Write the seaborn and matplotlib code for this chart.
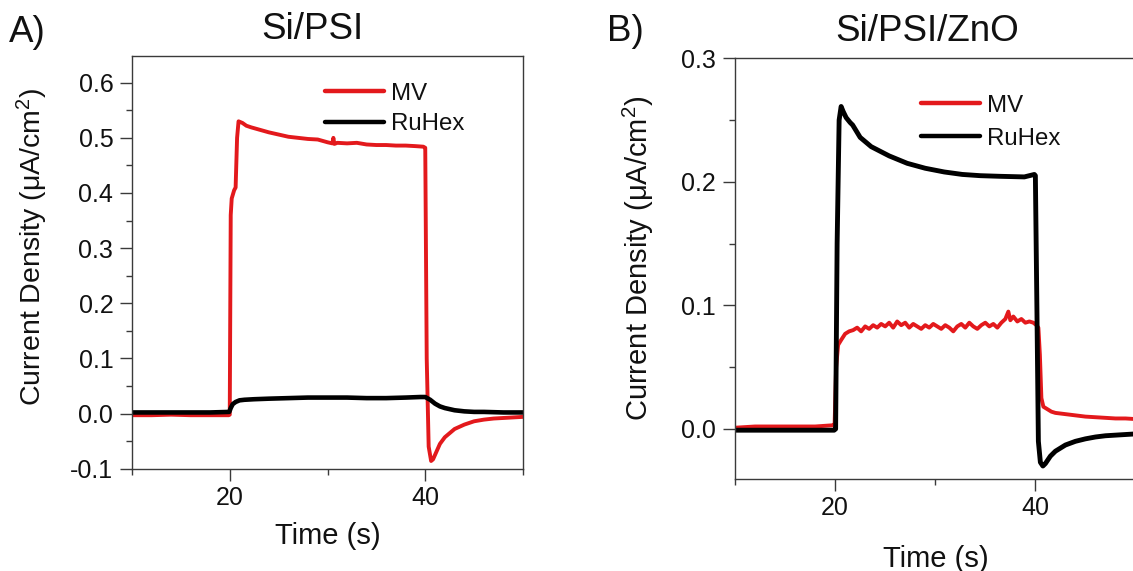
import numpy as np
import pandas as pd
import matplotlib
matplotlib.use("Agg")
import matplotlib.pyplot as plt
from matplotlib.ticker import MultipleLocator, FormatStrFormatter
import seaborn as sns

# ---------------- data ----------------
# Panel A: Si/PSI
a_mv_t = [10, 12, 14, 16, 18, 19.9, 20.0, 20.1, 20.2, 20.45, 20.6, 20.75, 20.9, 21.3, 21.7,
          22.2, 23.0, 24.0, 25.0, 26.0, 27.0, 28.0, 29.0, 30.0, 30.5, 30.6, 30.7, 31.0, 32.0,
          33.0, 34.0, 35.0, 36.0, 37.0, 38.0, 39.0, 39.8, 40.0, 40.15, 40.35, 40.6, 40.8,
          41.0, 41.5, 42.0, 43.0, 44.0, 45.0, 46.0, 47.0, 48.0, 49.0, 50.0]
a_mv_y = [-0.003, -0.003, -0.002, -0.003, -0.003, -0.003, -0.002, 0.36, 0.39, 0.405, 0.41, 0.50,
          0.53, 0.527, 0.522, 0.519, 0.515, 0.510, 0.506, 0.502, 0.500, 0.498, 0.497, 0.492,
          0.490, 0.500, 0.489, 0.491, 0.490, 0.491, 0.488, 0.487, 0.487, 0.486, 0.486, 0.485,
          0.484, 0.482, 0.10, -0.06, -0.086, -0.083, -0.075, -0.055, -0.043, -0.028, -0.020,
          -0.014, -0.011, -0.009, -0.008, -0.007, -0.006]
a_ru_t = [10, 12, 14, 16, 18, 19.95, 20.1, 20.3, 20.6, 21.0, 21.5, 22.5, 24, 26, 28, 30, 32,
          34, 36, 38, 39.5, 40.0, 40.5, 41.0, 41.5, 42, 43, 44, 45, 46, 48, 50]
a_ru_y = [0.002, 0.002, 0.002, 0.002, 0.002, 0.003, 0.010, 0.017, 0.021, 0.024, 0.025, 0.026,
          0.027, 0.028, 0.029, 0.029, 0.029, 0.028, 0.028, 0.029, 0.030, 0.030, 0.025, 0.018,
          0.013, 0.010, 0.006, 0.004, 0.003, 0.003, 0.002, 0.002]

# Panel B: Si/PSI/ZnO
b_mv_t = [10, 12, 14, 16, 18, 19.8, 19.95, 20.1, 20.3, 20.6, 21.0, 21.4, 21.8, 22.2, 22.6, 23.0,
          23.4, 23.8, 24.2, 24.6, 25.0, 25.4, 25.8, 26.2, 26.6, 27.0, 27.4, 27.8, 28.2, 28.6,
          29.0, 29.4, 29.8, 30.2, 30.6, 31.0, 31.4, 31.8, 32.2, 32.6, 33.0, 33.4, 33.8, 34.2,
          34.6, 35.0, 35.4, 35.8, 36.2, 36.6, 37.0, 37.3, 37.5, 37.8, 38.2, 38.6, 39.0, 39.4,
          39.8, 40.1, 40.3, 40.45, 40.6, 40.8, 41.2, 41.6, 42, 43, 44, 45, 46, 47, 48, 49, 50]
b_mv_y = [0.001, 0.002, 0.002, 0.002, 0.002, 0.003, 0.004, 0.05, 0.068, 0.072, 0.077, 0.079,
          0.080, 0.082, 0.079, 0.083, 0.081, 0.084, 0.082, 0.085, 0.083, 0.086, 0.082, 0.087,
          0.084, 0.086, 0.082, 0.085, 0.083, 0.081, 0.084, 0.082, 0.085, 0.083, 0.081, 0.084,
          0.082, 0.079, 0.083, 0.085, 0.082, 0.086, 0.083, 0.081, 0.084, 0.086, 0.083, 0.085,
          0.082, 0.086, 0.089, 0.095, 0.088, 0.091, 0.087, 0.089, 0.086, 0.087, 0.086, 0.084,
          0.082, 0.06, 0.025, 0.018, 0.016, 0.014, 0.013, 0.012, 0.011, 0.010, 0.0095, 0.009,
          0.0085, 0.0085, 0.008]
b_ru_t = [10, 12, 14, 16, 18, 19.9, 20.05, 20.2, 20.4, 20.6, 20.8, 21.1, 21.5, 21.75, 22.5,
          23.6, 25.4, 27.2, 29.0, 30.9, 32.7, 34.5, 36.4, 38.9, 39.9, 40.0, 40.15, 40.3, 40.5,
          40.75, 41.0, 41.5, 42, 43, 44, 45, 46, 47, 48, 50]
b_ru_y = [-0.001, -0.001, -0.001, -0.001, -0.001, -0.001, 0.0, 0.15, 0.25, 0.261, 0.257, 0.252,
          0.248, 0.246, 0.236, 0.2285, 0.221, 0.215, 0.211, 0.208, 0.206, 0.205, 0.2045, 0.204,
          0.206, 0.205, 0.10, -0.01, -0.027, -0.030, -0.028, -0.022, -0.018, -0.013, -0.010,
          -0.008, -0.0065, -0.0055, -0.005, -0.004]

series_labels = ["MV", "RuHex"]
panel_titles = ["Si/PSI", "Si/PSI/ZnO"]
panel_tags = ["A)", "B)"]
x_label = "Time (s)"
y_label = "Current Density (\u03bcA/cm$\\mathregular{^2}$)"

# ---------------- style ----------------
sns.set_theme(style="ticks")
plt.rcParams["font.family"] = ["Liberation Sans", "DejaVu Sans"]
plt.rcParams["mathtext.fontset"] = "custom"
plt.rcParams["mathtext.rm"] = "Liberation Sans"
plt.rcParams["mathtext.it"] = "Liberation Sans:italic"

RED = "#e3191c"
BLACK = "#000000"
SPINE = "#3a3a3a"
TEXT = "#111111"

W, H = 1133, 571
fig = plt.figure(figsize=(W / 100, H / 100), dpi=100)

def px_axes(l, t, r, b):
    return fig.add_axes([l / W, 1 - b / H, (r - l) / W, (b - t) / H])

axA = px_axes(132, 55.7, 523, 468.7)
axB = px_axes(735, 58.3, 1135.5, 479)

def style_axes(ax, ylim, ymajor):
    ax.set_xlim(10, 50)
    ax.set_ylim(*ylim)
    ax.xaxis.set_major_locator(MultipleLocator(20))
    ax.xaxis.set_minor_locator(MultipleLocator(10))
    ax.yaxis.set_major_locator(MultipleLocator(ymajor))
    ax.yaxis.set_minor_locator(MultipleLocator(ymajor / 2))
    ax.yaxis.set_major_formatter(FormatStrFormatter("%.1f"))
    for s in ax.spines.values():
        s.set_visible(True)
        s.set_color(SPINE)
        s.set_linewidth(1.0)
    ax.tick_params(which="both", direction="out", color=SPINE, width=1.0,
                   top=False, right=False)
    ax.tick_params(which="major", length=8.5, labelsize=18, labelcolor=TEXT)
    ax.tick_params(which="minor", length=4.5)
    ax.tick_params(axis="y", which="major", pad=5)
    ax.tick_params(axis="x", which="major", pad=4)
    ax.set_facecolor("white")

# Panel A
dfa_mv = pd.DataFrame({"t": a_mv_t, "y": a_mv_y})
dfa_ru = pd.DataFrame({"t": a_ru_t, "y": a_ru_y})
sns.lineplot(data=dfa_mv, x="t", y="y", ax=axA, color=RED, lw=2.8, label=series_labels[0],
             estimator=None, sort=False)
sns.lineplot(data=dfa_ru, x="t", y="y", ax=axA, color=BLACK, lw=3.3, label=series_labels[1],
             estimator=None, sort=False)
style_axes(axA, (-0.1, 0.649), 0.1)

# Panel B
dfb_mv = pd.DataFrame({"t": b_mv_t, "y": b_mv_y})
dfb_ru = pd.DataFrame({"t": b_ru_t, "y": b_ru_y})
sns.lineplot(data=dfb_mv, x="t", y="y", ax=axB, color=RED, lw=2.8, label=series_labels[0],
             estimator=None, sort=False)
sns.lineplot(data=dfb_ru, x="t", y="y", ax=axB, color=BLACK, lw=3.5, label=series_labels[1],
             estimator=None, sort=False)
style_axes(axB, (-0.0405, 0.3), 0.1)

for ax, anchor, spacing in ((axA, (0.494, 0.935), 0.36), (axB, (0.465, 0.913), 0.45)):
    ax.set_xlabel("")
    ax.set_ylabel("")
    leg = ax.legend(loc="upper left", bbox_to_anchor=anchor, frameon=False, fontsize=17.3,
                    handlelength=2.45, handletextpad=0.3, labelspacing=spacing,
                    borderpad=0, borderaxespad=0)
    for line in leg.get_lines():
        line.set_linewidth(3.2)
    for t in leg.get_texts():
        t.set_color(TEXT)

# axis labels
axA.set_xlabel(x_label, fontsize=21, color=TEXT)
axA.xaxis.set_label_coords(0.5, -0.128)
axA.set_ylabel(y_label, fontsize=20.5, color=TEXT)
axA.yaxis.set_label_coords(-0.209, 0.537)
axB.set_xlabel(x_label, fontsize=21, color=TEXT)
axB.xaxis.set_label_coords(0.501, -0.157)
axB.set_ylabel(y_label, fontsize=21, color=TEXT)
axB.yaxis.set_label_coords(-0.197, 0.525)

# titles and panel tags
fig.text(312 / W, 1 - 39 / H, panel_titles[0], fontsize=26.5, ha="center", va="baseline", color=TEXT)
fig.text(927 / W, 1 - 41 / H, panel_titles[1], fontsize=26.5, ha="center", va="baseline", color=TEXT)
fig.text(9 / W, 1 - 42 / H, panel_tags[0], fontsize=26.5, ha="left", va="baseline", color=TEXT)
fig.text(607 / W, 1 - 41 / H, panel_tags[1], fontsize=26.5, ha="left", va="baseline", color=TEXT)

fig.savefig("out.png", dpi=100, facecolor="white")
